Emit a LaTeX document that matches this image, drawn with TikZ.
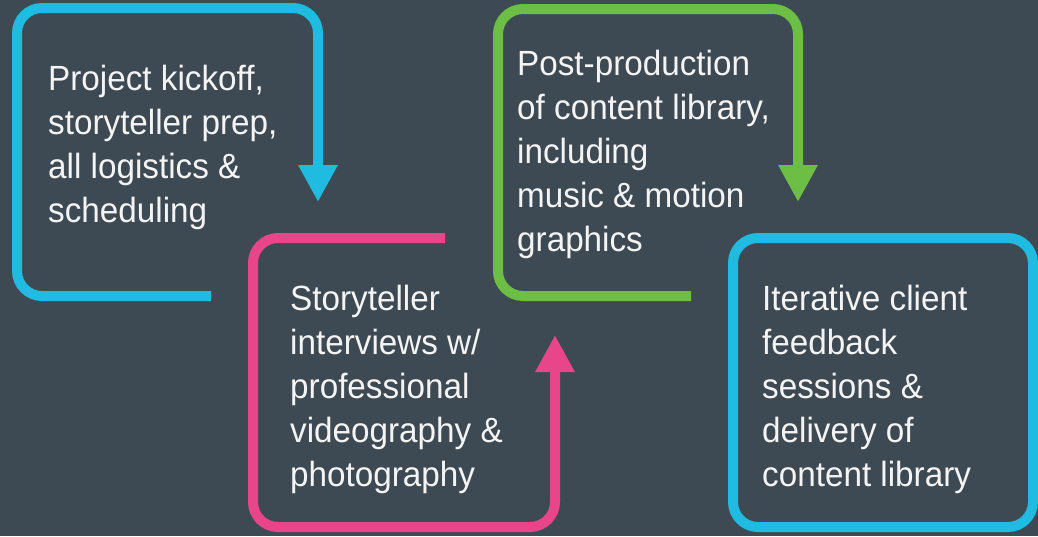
\documentclass[tikz,border=0pt]{standalone}
\usepackage{fontspec}
\setmainfont{Liberation Sans}[FakeStretch=0.95]
\usetikzlibrary{arrows.meta}
\definecolor{slate}{HTML}{3E4A53}
\definecolor{skyblue}{HTML}{1FBBE0}
\definecolor{rosepink}{HTML}{E9458A}
\definecolor{leafgreen}{HTML}{6CBE45}
\definecolor{paper}{HTML}{F4F4F4}
\begin{document}
\begin{tikzpicture}[x=1pt,y=-1pt,
  frame/.style={line width=10pt,rounded corners=25pt},
  flowtip/.style={-{Triangle[width=37pt,length=37pt]}},
  steptext/.style={anchor=base west,inner sep=0pt,align=left,text=paper,
    font=\fontsize{35pt}{44pt}\selectfont}]
  % background
  \fill[slate] (0,0) rectangle (1038,536);
  \useasboundingbox (0,0) rectangle (1038,536);

  % step texts (placed by the baseline of their last line)
  \node[steptext] (kickoff) at (48,222)
    {Project kickoff,\\storyteller prep,\\all logistics \&\\scheduling};
  \node[steptext] (shoot) at (290,486)
    {Storyteller\\interviews w/\\professional\\videography \&\\photography};
  \node[steptext] (post) at (517,251)
    {Post-production\\of content library,\\including\\music \& motion\\graphics};
  \node[steptext] (review) at (762,486)
    {Iterative client\\feedback\\sessions \&\\delivery of\\content library};

  % open frames, each handing on to the next step
  \coordinate (kickoffEnd) at (318,202);
  \coordinate (shootEnd) at (555,335);
  \coordinate (postEnd) at (798,202);
  \draw[frame,skyblue,flowtip] (211,296) -- (17,296) -- (17,8) -- (318,8) -- (kickoffEnd);
  \draw[frame,rosepink,flowtip] (445,238) -- (253,238) -- (253,527) -- (555,527) -- (shootEnd);
  \draw[frame,leafgreen,flowtip] (691,296) -- (498,296) -- (498,9) -- (798,9) -- (postEnd);
  % closed frame of the last step
  \draw[frame,skyblue] (733,238) rectangle (1033,527);
\end{tikzpicture}
\end{document}
